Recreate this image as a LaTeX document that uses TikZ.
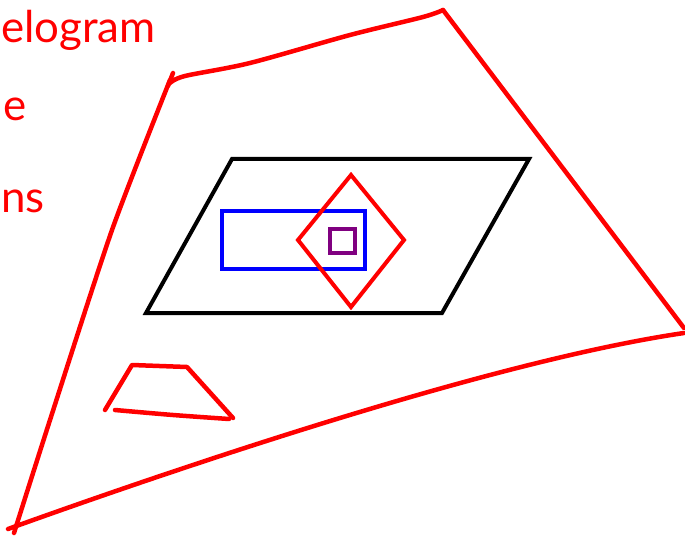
\documentclass[tikz,border=0pt]{standalone}
\usepackage{fontspec}
\setmainfont{Lato}
\usepackage{tikz}
\definecolor{inkred}{RGB}{255,0,0}
\definecolor{inkblue}{RGB}{0,0,255}
\definecolor{inkpurple}{RGB}{128,0,128}
\tikzset{
  pen/.style={line width=4.5bp,line cap=round,line join=round,inkred},
  outline/.style={line width=4bp},
  scrawl/.style={text=inkred,inner sep=0pt,font=\fontsize{44}{44}\selectfont}
}

\begin{document}
\begin{tikzpicture}[x=1bp,y=-1bp]
  \useasboundingbox (0,0) rectangle (685,537);
  % words at the left edge
  \node[scrawl,anchor=base west] (word1) at (1,43) {elogram};
  \node[scrawl,anchor=base west] (word2) at (3,121) {e};
  \node[scrawl,anchor=base west] (word3) at (1,213) {ns};
  % big red quadrilateral
  \draw[pen] (173,73)--(168,86);
  \draw[pen] plot[smooth,tension=0.5] coordinates {(170,83) (185,76) (250,63) (350,35) (423,17) (443,10)};
  \draw[pen] (443,10)--(684,328);
  \draw[pen] (684,333) .. controls (500,360) and (200,460) .. (8,529);
  \draw[pen] plot[smooth,tension=0.4] coordinates {(170,80) (112,230) (50,420) (14,533)};
  % small red trapezoid
  \draw[pen] (105,410)--(132,365)--(187,367)--(233,418);
  \draw[pen] plot[smooth] coordinates {(115,410) (173,415) (229,419)};
  % black parallelogram
  \draw[outline,black] (232,159)--(529,159)--(442,313)--(146,313)--cycle;
  % blue rectangle
  \draw[outline,inkblue] (222,211) rectangle (365,269);
  % red diamond
  \draw[outline,inkred] (351,175)--(404,240)--(351,307)--(298,240)--cycle;
  % purple square
  \draw[outline,inkpurple] (330,229) rectangle (355,253);
\end{tikzpicture}
\end{document}
